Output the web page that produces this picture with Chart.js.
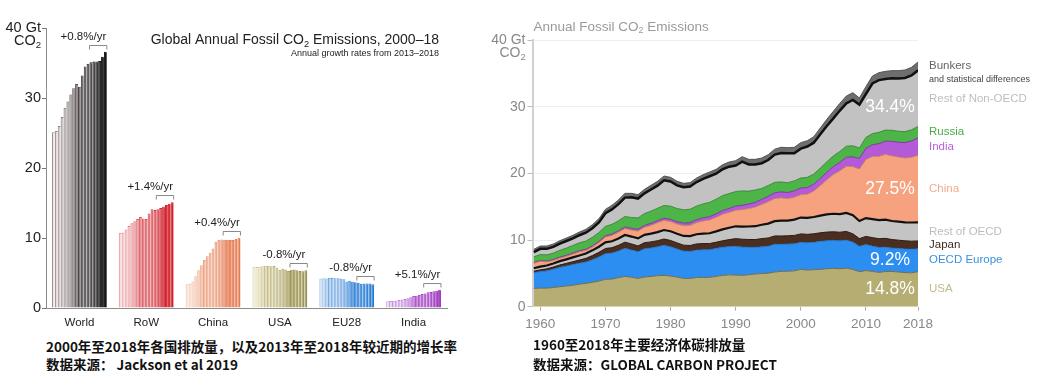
<!DOCTYPE html>
<html><head><meta charset="utf-8">
<script src="https://cdn.jsdelivr.net/npm/chart.js@4.4.1/dist/chart.umd.min.js"></script>
<style>
html,body{margin:0;padding:0;background:#fff;width:1046px;height:371px;overflow:hidden;position:relative;font-family:"Liberation Sans",Arial,sans-serif;}
#c1{position:absolute;left:0;top:0;}
#c2{position:absolute;left:480px;top:0;}
.cap{position:absolute;font-family:"Noto Sans CJK SC",sans-serif;font-weight:bold;font-size:13.5px;color:#111;white-space:nowrap;}
</style></head><body>
<canvas id="c1" width="480" height="335"></canvas>
<canvas id="c2" width="566" height="335"></canvas>
<div class="cap" style="left:46px;top:337px;line-height:18px">2000年至2018年各国排放量，以及2013年至2018年较近期的增长率<br>数据来源： Jackson et al 2019</div>
<div class="cap" style="left:533px;top:334px;line-height:20px">1960至2018年主要经济体碳排放量<br>数据来源：GLOBAL CARBON PROJECT</div>
<script>
// ---------- Left chart data (Gt CO2, 2000-2018) ----------
const barYears = ['2000','2001','2002','2003','2004','2005','2006','2007','2008','2009','2010','2011','2012','2013','2014','2015','2016','2017','2018'];
const barRegions = ['World','RoW','China','USA','EU28','India'];
const barWorld = [25.1,25.3,26.0,27.3,28.6,29.5,30.5,31.4,32.0,31.6,33.2,34.5,34.9,35.1,35.2,35.2,35.3,35.9,36.6];
const barRoW   = [10.7,10.8,11.2,11.7,12.1,12.4,12.7,13.0,12.8,12.7,13.5,14.1,14.0,14.1,14.3,14.5,14.7,14.9,15.1];
const barChina = [3.4,3.45,3.8,4.55,5.4,6.1,6.85,7.4,7.9,8.5,9.45,9.75,9.8,9.75,9.75,9.7,9.7,9.85,10.05];
const barUSA   = [5.9,5.85,5.9,5.95,6.05,6.05,5.95,6.0,5.8,5.45,5.6,5.5,5.3,5.45,5.5,5.4,5.3,5.25,5.4];
const barEU28  = [4.2,4.25,4.22,4.28,4.28,4.26,4.25,4.18,4.1,3.8,3.88,3.75,3.68,3.6,3.45,3.5,3.5,3.5,3.4];
const barIndia = [0.98,1.0,1.03,1.07,1.15,1.2,1.29,1.4,1.53,1.7,1.76,1.86,2.0,2.08,2.24,2.28,2.38,2.46,2.6];
const growthLabels = ['+0.8%/yr','+1.4%/yr','+0.4%/yr','-0.8%/yr','-0.8%/yr','+5.1%/yr'];
const leftTicks = [0,10,20,30,40];

// ---------- Right chart data (Gt CO2, 1959-2018) ----------
const areaYears = [1959,1960,1961,1962,1963,1964,1965,1966,1967,1968,
1969,1970,1971,1972,1973,1974,1975,1976,1977,1978,
1979,1980,1981,1982,1983,1984,1985,1986,1987,1988,
1989,1990,1991,1992,1993,1994,1995,1996,1997,1998,
1999,2000,2001,2002,2003,2004,2005,2006,2007,2008,
2009,2010,2011,2012,2013,2014,2015,2016,2017,2018];
const areaUSA = [2.75,2.78,2.78,2.88,3.0,3.1,3.22,3.38,3.5,3.65,
3.85,4.1,4.15,4.35,4.55,4.42,4.25,4.45,4.55,4.65,
4.7,4.6,4.45,4.25,4.25,4.38,4.4,4.4,4.55,4.7,
4.78,4.75,4.7,4.8,4.9,4.98,5.02,5.2,5.3,5.32,
5.38,5.6,5.5,5.55,5.6,5.7,5.75,5.7,5.78,5.6,
5.25,5.42,5.3,5.15,5.28,5.3,5.2,5.12,5.08,5.25];
const areaEurope = [2.35,2.5,2.6,2.75,2.9,3.0,3.1,3.15,3.2,3.4,
3.6,3.85,3.9,4.0,4.2,4.1,4.0,4.25,4.25,4.35,
4.5,4.4,4.2,4.1,4.05,4.1,4.15,4.15,4.2,4.2,
4.25,4.3,4.25,4.1,4.0,4.0,4.05,4.15,4.05,4.1,
4.05,4.05,4.1,4.1,4.2,4.2,4.2,4.2,4.2,4.1,
3.8,3.9,3.8,3.75,3.65,3.5,3.55,3.55,3.55,3.45];
const areaJapan = [0.22,0.25,0.3,0.32,0.36,0.4,0.43,0.47,0.55,0.62,
0.7,0.78,0.8,0.86,0.93,0.9,0.87,0.9,0.92,0.9,
0.95,0.94,0.92,0.88,0.88,0.94,0.92,0.92,0.92,0.99,
1.03,1.16,1.17,1.18,1.17,1.23,1.24,1.26,1.26,1.22,
1.26,1.27,1.25,1.28,1.29,1.29,1.29,1.27,1.31,1.23,
1.16,1.22,1.26,1.3,1.32,1.27,1.23,1.21,1.2,1.16];
const areaRestOECD = [0.45,0.48,0.5,0.53,0.57,0.6,0.64,0.68,0.72,0.78,
0.84,0.92,0.96,1.02,1.08,1.1,1.12,1.18,1.24,1.28,
1.35,1.38,1.38,1.38,1.4,1.45,1.5,1.55,1.62,1.7,
1.78,1.85,1.9,1.95,2.0,2.08,2.15,2.22,2.3,2.28,
2.38,2.45,2.48,2.52,2.58,2.65,2.7,2.72,2.78,2.78,
2.65,2.75,2.78,2.8,2.8,2.78,2.78,2.78,2.8,2.8];
const areaChina = [0.75,0.8,0.55,0.45,0.45,0.46,0.5,0.55,0.46,0.5,
0.62,0.8,0.88,0.92,0.96,0.98,1.1,1.14,1.25,1.42,
1.45,1.46,1.45,1.55,1.62,1.75,1.9,2.0,2.13,2.28,
2.32,2.42,2.55,2.68,2.88,3.05,3.3,3.4,3.42,3.3,
3.35,3.45,3.55,3.9,4.5,5.2,5.9,6.5,7.0,7.3,
7.8,8.8,9.4,9.55,9.8,9.8,9.7,9.65,9.8,10.05];
const areaIndia = [0.11,0.12,0.13,0.14,0.15,0.15,0.16,0.17,0.18,0.19,
0.19,0.2,0.21,0.22,0.23,0.24,0.26,0.27,0.29,0.29,
0.31,0.33,0.35,0.37,0.4,0.42,0.45,0.48,0.51,0.55,
0.59,0.6,0.64,0.68,0.7,0.75,0.8,0.85,0.88,0.9,
0.95,0.98,1.0,1.02,1.06,1.12,1.18,1.25,1.35,1.45,
1.6,1.67,1.75,1.9,1.98,2.15,2.2,2.3,2.43,2.62];
const areaRussia = [0.85,0.9,0.92,0.97,1.03,1.08,1.13,1.18,1.23,1.27,
1.33,1.4,1.46,1.52,1.58,1.64,1.72,1.78,1.83,1.88,
1.92,1.97,1.98,2.0,2.02,2.05,2.1,2.15,2.2,2.25,
2.22,2.2,2.15,1.95,1.85,1.65,1.62,1.58,1.5,1.48,
1.5,1.5,1.52,1.52,1.57,1.58,1.6,1.65,1.65,1.68,
1.55,1.62,1.68,1.7,1.66,1.66,1.65,1.65,1.67,1.7];
const areaRestNonOECD = [0.72,0.85,0.9,0.93,1.0,1.06,1.06,1.14,1.26,1.37,
1.52,1.97,2.24,2.49,2.83,3.02,2.9,3.03,3.25,3.39,
3.77,3.7,3.47,3.39,3.4,3.61,3.76,3.91,3.81,3.95,
4.03,3.9,4.4,4.0,3.84,3.78,3.82,4.15,4.35,4.4,
4.15,4.4,4.62,4.71,5.05,5.36,5.63,6.13,6.43,6.86,
6.49,6.52,7.51,7.83,7.66,7.79,7.91,8.04,8.15,8.42];
const areaBunkers = [0.4,0.42,0.42,0.43,0.44,0.45,0.46,0.48,0.5,0.52,
0.55,0.58,0.6,0.62,0.64,0.6,0.58,0.6,0.62,0.64,
0.65,0.62,0.6,0.58,0.58,0.6,0.62,0.64,0.66,0.68,
0.7,0.72,0.74,0.76,0.76,0.78,0.8,0.82,0.85,0.85,
0.88,0.9,0.88,0.9,0.95,1.0,1.05,1.08,1.1,1.1,
1.0,1.1,1.12,1.12,1.15,1.15,1.18,1.2,1.22,1.25];
const areaNames = ['USA','OECD Europe','Japan','Rest of OECD','China','India','Russia','Rest of Non-OECD','Bunkers'];
const areaShares = ['14.8%','9.2%','','','27.5%','','','34.4%',''];
const xTickYears = [1960,1970,1980,1990,2000,2010,2018];
const rightTicks = [0,10,20,30,40];

// ---------- styling ----------
const FONT = '"Liberation Sans", Arial, Helvetica, sans-serif';
const regionLight = [[244,230,230],[247,220,220],[250,230,218],[244,240,212],[210,226,244],[234,222,244]];
const regionDark  = [[20,20,20],[210,34,46],[230,124,84],[154,146,82],[34,120,212],[158,54,190]];
function mix(a,b,t){return 'rgb('+a.map((v,k)=>Math.round(v+(b[k]-v)*t)).join(',')+')';}

function drawSubText(ctx, segs, x, y, align, size, color, weight){
  ctx.save();
  ctx.fillStyle = color; ctx.textBaseline = 'alphabetic'; ctx.textAlign = 'left';
  const fN = (weight||'') + ' ' + size + 'px ' + FONT;
  const fS = (weight||'') + ' ' + (size*0.66).toFixed(1) + 'px ' + FONT;
  let w = 0;
  segs.forEach(s=>{ctx.font = s[1]?fS:fN; w += ctx.measureText(s[0]).width;});
  let cx = align==='right' ? x-w : (align==='center' ? x-w/2 : x);
  segs.forEach(s=>{ctx.font = s[1]?fS:fN; ctx.fillText(s[0], cx, s[1] ? y+size*0.22 : y); cx += ctx.measureText(s[0]).width;});
  ctx.restore();
}

// ---------- Left chart ----------
const barSeries = [barWorld, barRoW, barChina, barUSA, barEU28, barIndia];
const datasets1 = barYears.map((yr,i)=>{
  const t = i/(barYears.length-1);
  return {
    label: yr,
    data: barSeries.map(s=>s[i]),
    backgroundColor: regionLight.map((c,r)=>mix(c, regionDark[r], t)),
    borderColor: regionLight.map((c,r)=>mix(c, regionDark[r], Math.min(1, 0.4 + t*0.75))),
    borderWidth: {left:1, top:1, right:0, bottom:0},
    barPercentage: 1.0,
    categoryPercentage: 0.82
  };
});

const leftDecor = {
  id: 'leftDecor',
  afterDatasetsDraw(chart){
    const ctx = chart.ctx;
    const xs = chart.scales.x, ys = chart.scales.y;
    const first = 13, last = barYears.length-1;
    ctx.save();
    barRegions.forEach((r,c)=>{
      const b0 = chart.getDatasetMeta(first).data[c];
      const b1 = chart.getDatasetMeta(last).data[c];
      const x0 = b0.x - b0.width/2, x1 = b1.x + b1.width/2;
      let top = Infinity;
      for(let d=first; d<=last; d++){ top = Math.min(top, chart.getDatasetMeta(d).data[c].y); }
      const yb = Math.round(top - 7) + 0.5;
      ctx.strokeStyle = '#8a8a8a'; ctx.lineWidth = 1;
      ctx.beginPath(); ctx.moveTo(x0, yb+4); ctx.lineTo(x0, yb); ctx.lineTo(x1, yb); ctx.lineTo(x1, yb+4); ctx.stroke();
      ctx.fillStyle = '#222'; ctx.font = '11.5px ' + FONT; ctx.textAlign = 'center'; ctx.textBaseline = 'middle';
      ctx.fillText(growthLabels[c], xs.getPixelForValue(c) + 4, yb - 9);
    });
    ctx.restore();
    const lx = ys.right - ys.options.grid.tickLength - ys.options.ticks.padding;
    drawSubText(ctx, [['CO',false],['2',true]], lx, ys.getPixelForValue(40) + 17, 'right', 14.5, '#222');
    drawSubText(ctx, [['Global Annual Fossil CO',false],['2',true],[' Emissions, 2000\u201318',false]], 439, 43.5, 'right', 14, '#222');
    drawSubText(ctx, [['Annual growth rates from 2013\u20132018',false]], 439, 56, 'right', 9, '#222');
  }
};

new Chart(document.getElementById('c1'), {
  type: 'bar',
  data: { labels: barRegions, datasets: datasets1 },
  options: {
    responsive: false, animation: false, devicePixelRatio: 1,
    layout: { padding: { left: 0, right: 33, top: 28, bottom: 0 } },
    plugins: { legend: { display: false }, tooltip: { enabled: false } },
    scales: {
      x: {
        grid: { display: false, drawTicks: false },
        border: { display: true, color: '#8c8c8c', width: 1 },
        ticks: { color: '#222', font: { family: FONT, size: 11.5 }, padding: 8 },
        afterFit(s){ s.height = 27; }
      },
      y: {
        min: 0, max: 40,
        afterBuildTicks(s){ s.ticks = leftTicks.map(v=>({value:v})); },
        grid: { drawOnChartArea: false, drawTicks: true, tickLength: 4, tickColor: '#777' },
        border: { display: true, color: '#8c8c8c', width: 1 },
        ticks: { color: '#222', font: { family: FONT, size: 14.5 }, padding: 1,
                 callback: v => v === 40 ? '40 Gt' : String(v) },
        afterFit(s){ s.width = 46; }
      }
    }
  },
  plugins: [leftDecor]
});

// ---------- Right chart ----------
const areaSeries = [areaUSA, areaEurope, areaJapan, areaRestOECD, areaChina, areaIndia, areaRussia, areaRestNonOECD, areaBunkers];
const fillColors = ['#b5ad72','#2b8ef0','#4a2e22','#c4c4c4','#f7a27f','#b45ad8','#4db548','#c2c2c2','#6e6e6e'];
const lineColors = ['#6f6a55','#1f64b0','#2e1a12','#111111','#b8725a','#6a2a88','#2e7a2a','#111111','#555555'];
const lineWidths = [1, 0.8, 1, 2.2, 0.8, 0.8, 0.8, 2.5, 1];
const labelColors = ['#c2bb8c','#3a90df','#3b2a20','#bdbdbd','#f3ab8e','#b860d6','#46ad46','#bdbdbd','#666666'];
const shareAnchor = [0.5,0.5,0.5,0.5,0.5,0.5,0.5,0.35,0.5];

const datasets2 = areaSeries.map((vals,i)=>({
  label: areaNames[i],
  data: vals.map((v,k)=>({x: areaYears[k], y: v})),
  backgroundColor: fillColors[i],
  borderColor: lineColors[i],
  borderWidth: lineWidths[i],
  fill: i===0 ? 'origin' : '-1',
  pointRadius: 0, pointHoverRadius: 0, tension: 0
}));

const rightDecor = {
  id: 'rightDecor',
  afterDatasetsDraw(chart){
    const ctx = chart.ctx, ys = chart.scales.y, area = chart.chartArea;
    const n = areaYears.length - 1;
    areaNames.forEach((name,i)=>{
      const top = chart.getDatasetMeta(i).data[n].y;
      const base = i===0 ? ys.getPixelForValue(0) : chart.getDatasetMeta(i-1).data[n].y;
      const mid = (top+base)/2;
      ctx.save();
      ctx.textAlign = 'left'; ctx.textBaseline = 'middle';
      ctx.fillStyle = labelColors[i]; ctx.font = '11.5px ' + FONT;
      ctx.fillText(name, area.right + 11, mid);
      if (name === 'Bunkers') {
        ctx.fillStyle = '#444'; ctx.font = '9px ' + FONT;
        ctx.fillText('and statistical differences', area.right + 11, mid + 13);
      }
      if (areaShares[i]) {
        ctx.fillStyle = '#ffffff'; ctx.font = '17.5px ' + FONT; ctx.textAlign = 'center';
        ctx.fillText(areaShares[i], area.right - 28, base - (base-top)*shareAnchor[i]);
      }
      ctx.restore();
    });
    const lx = ys.right - ys.options.grid.tickLength - ys.options.ticks.padding;
    drawSubText(ctx, [['CO',false],['2',true]], lx, ys.getPixelForValue(40) + 17, 'right', 14, '#8a8a8a');
    drawSubText(ctx, [['Annual Fossil CO',false],['2',true],[' Emissions',false]], area.left + 1, 30.5, 'left', 13.5, '#9a9a9a');
  }
};

new Chart(document.getElementById('c2'), {
  type: 'line',
  data: { datasets: datasets2 },
  options: {
    responsive: false, animation: false, devicePixelRatio: 1,
    layout: { padding: { left: 0, right: 128, top: 40, bottom: 0 } },
    plugins: { legend: { display: false }, tooltip: { enabled: false }, filler: { propagate: false } },
    scales: {
      x: {
        type: 'linear', min: 1958.8, max: 2018,
        afterBuildTicks(s){ s.ticks = xTickYears.map(v=>({value:v})); },
        grid: { drawOnChartArea: false, drawTicks: true, tickLength: 4, tickColor: '#aaa' },
        border: { display: false },
        ticks: { color: '#888', font: { family: FONT, size: 13.5 }, padding: 5, maxRotation: 0,
                 callback: v => String(v) },
        afterFit(s){ s.height = 28.3; }
      },
      y: {
        stacked: true, min: 0, max: 40,
        afterBuildTicks(s){ s.ticks = rightTicks.map(v=>({value:v})); },
        grid: { drawOnChartArea: true, color: '#efefef', drawTicks: true, tickLength: 5, tickColor: '#bbb' },
        border: { display: true, color: '#d0d0d0', width: 2 },
        ticks: { color: '#888', font: { family: FONT, size: 14 }, padding: 2,
                 callback: v => v === 40 ? '40 Gt' : String(v) },
        afterFit(s){ s.width = 52.5; }
      }
    }
  },
  plugins: [rightDecor]
});
</script>
</body></html>
